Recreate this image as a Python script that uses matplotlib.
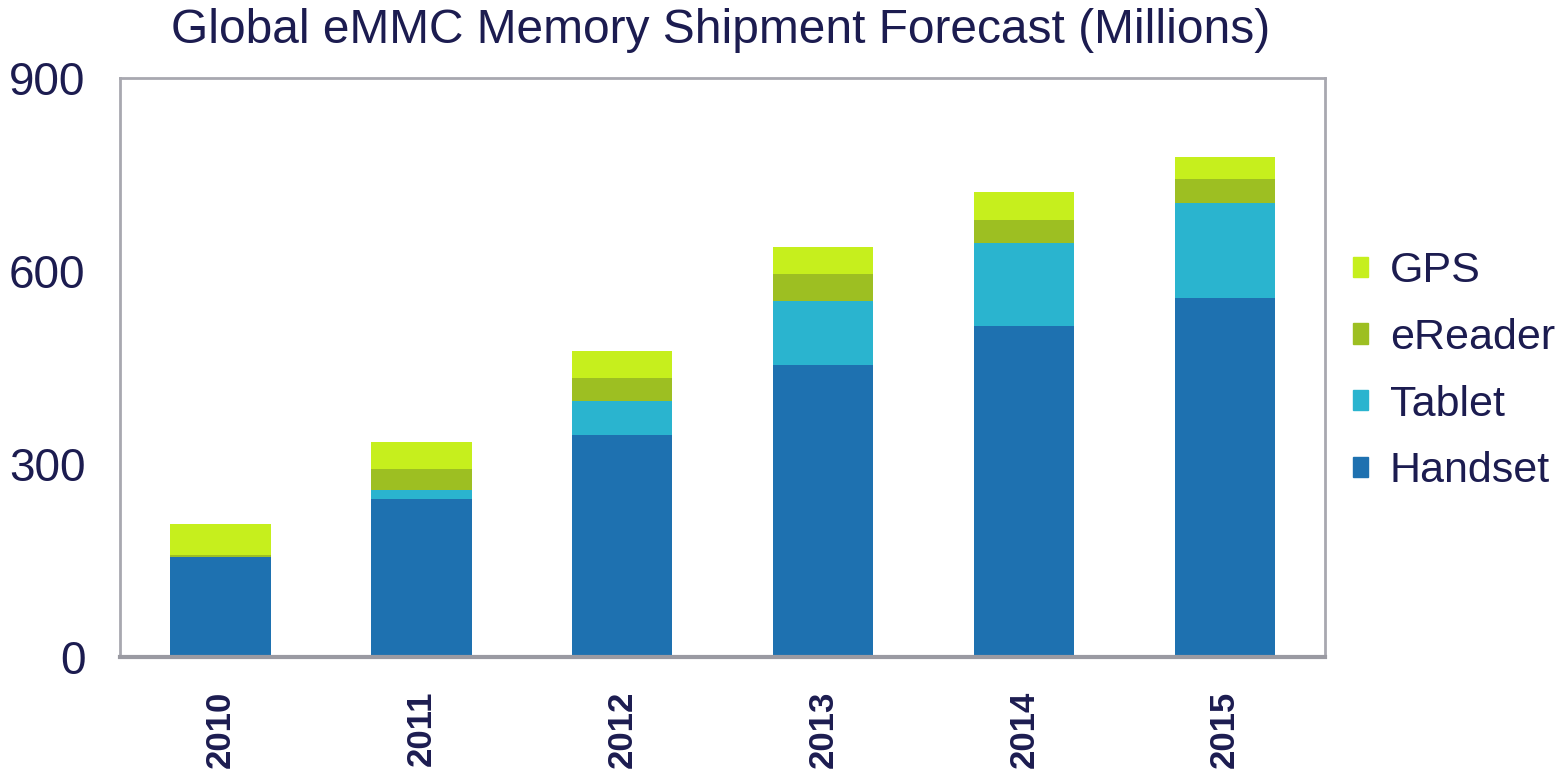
import matplotlib.pyplot as plt
from matplotlib.patches import Patch

years = ['2010', '2011', '2012', '2013', '2014', '2015']
handset = [156, 245, 345, 454, 514, 558]
tablet = [0, 15, 53, 100, 129, 147]
ereader = [3, 32, 36, 42, 36, 38]
gps = [48, 43, 41, 42, 44, 35]

series = [('Handset', handset, '#1e71b0'),
          ('Tablet', tablet, '#2ab4cf'),
          ('eReader', ereader, '#9dbf22'),
          ('GPS', gps, '#c6ef1d')]

navy = '#1c1c50'
plt.rcParams['font.family'] = ['Liberation Sans', 'DejaVu Sans']

fig = plt.figure(figsize=(15.59, 7.77), dpi=100)
ax = fig.add_axes([0.077, 0.1544, 0.773, 0.7452])

x = list(range(len(years)))
bottom = [0] * len(years)
for name, vals, col in series:
    ax.bar(x, vals, 0.5, bottom=bottom, color=col, label=name)
    bottom = [b + v for b, v in zip(bottom, vals)]

ax.set_xlim(-0.5, 5.5)
ax.set_ylim(0, 900)
ax.set_yticks([0, 300, 600, 900])
ax.tick_params(axis='y', length=0, pad=25, labelsize=33, labelcolor=navy)
ax.set_xticks(x)
ax.set_xticklabels(years, rotation=90, fontsize=25, fontweight='bold', color=navy)
ax.tick_params(axis='x', length=0, pad=24)

for s in ax.spines.values():
    s.set_color('#a8a8b0')
    s.set_linewidth(2)
ax.spines['bottom'].set_color('#9a9aa2')
ax.spines['bottom'].set_linewidth(3)

fig.text(0.462, 0.961, 'Global eMMC Memory Shipment Forecast (Millions)',
         ha='center', va='center', fontsize=34.5, color=navy)

handles = [Patch(color=col, label=name) for name, vals, col in reversed(series)]
fig.legend(handles=handles, loc='center left', bbox_to_anchor=(0.868, 0.522),
           frameon=False, fontsize=31, labelcolor=navy, handlelength=0.35,
           handleheight=0.35, handletextpad=0.5, labelspacing=0.62,
           borderpad=0, borderaxespad=0)

fig.savefig('out.png', dpi=100)
